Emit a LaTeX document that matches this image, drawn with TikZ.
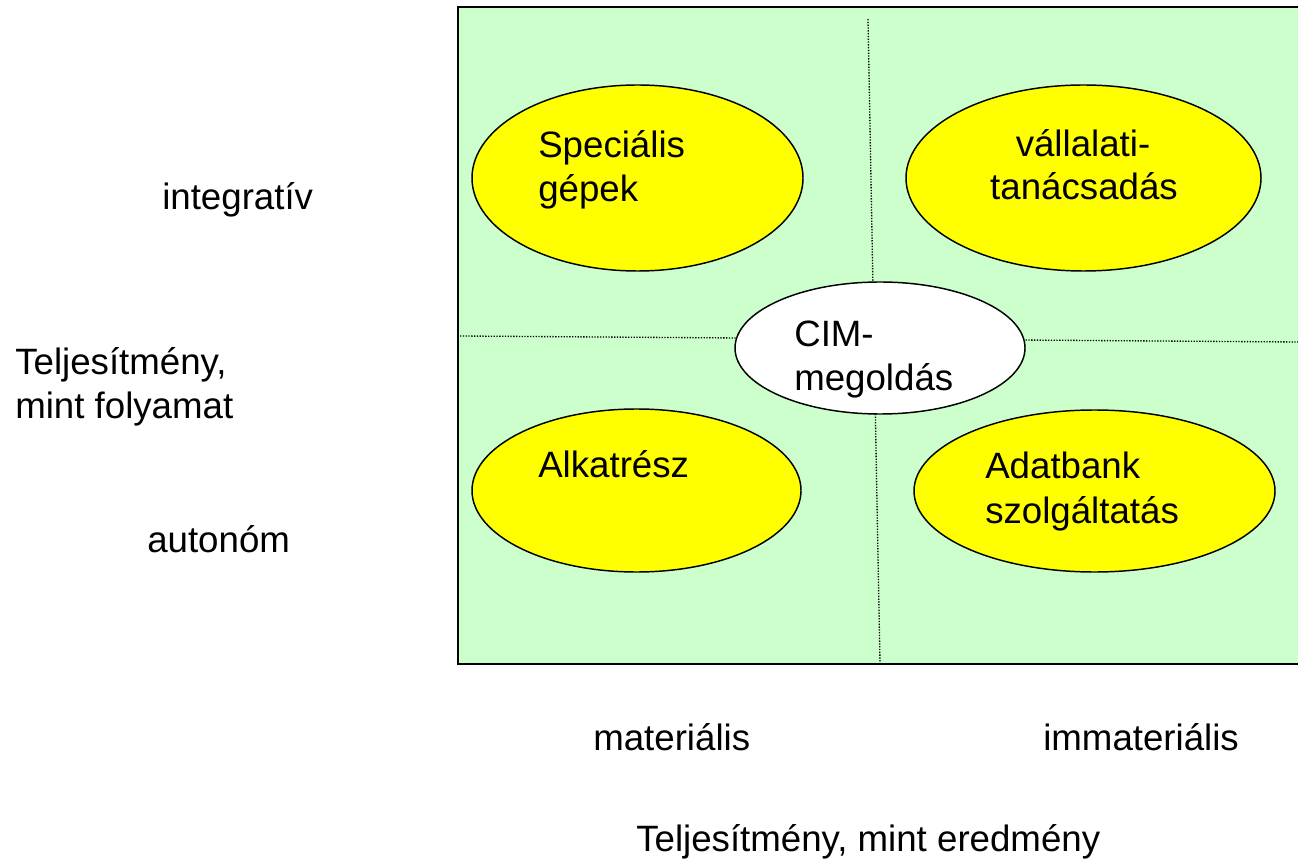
\documentclass[tikz,border=0pt]{standalone}
\usepackage{fontspec}
\setmainfont{Liberation Sans}
\usetikzlibrary{shapes.geometric}
\definecolor{panelgreen}{HTML}{CCFFCC}
\definecolor{blobyellow}{HTML}{FFFF00}
\begin{document}
\begin{tikzpicture}[x=0.75pt,y=-0.75pt,
  lbl/.style={font=\fontsize{27.5}{33}\selectfont, inner sep=0pt, anchor=base west},
  clbl/.style={lbl, anchor=base},
  blob/.style={ellipse, draw=black, line width=1.1pt, inner sep=0pt, fill=blobyellow},
  gridline/.style={line width=1pt, dash pattern=on 1pt off 1.1pt},
  frame/.style={line width=1.5pt}]
\useasboundingbox (0,0) rectangle (1298,862);

% panel background and frame (open on the right)
\coordinate (tr) at (1298,7);
\coordinate (tl) at (458,7);
\coordinate (bl) at (458,664);
\coordinate (br) at (1298,664);
\fill[panelgreen] (tl) rectangle (br);
\draw[frame] (tr) -- (tl) -- (bl) -- (br);

% quadrant separators
\coordinate (vt) at (868,19);
\coordinate (vb) at (880,664);
\coordinate (hl) at (460,336);
\coordinate (hr) at (1298,342);
\draw[gridline] (vt) -- (vb);
\draw[gridline] (hl) -- (hr);

% quadrant ellipses
\node[blob, minimum width=248.25pt, minimum height=139.5pt] (spec) at (637.5,178) {};
\node[blob, minimum width=266.25pt, minimum height=139.5pt] (vall) at (1083.5,178) {};
\node[blob, minimum width=246.75pt, minimum height=122.25pt] (alk) at (636.5,490.5) {};
\node[blob, minimum width=270.75pt, minimum height=121.5pt] (adat) at (1094.5,491) {};
\node[blob, fill=white, minimum width=217.5pt, minimum height=99pt] (cim) at (880,348) {};

% texts inside the ellipses
\node[lbl] (spec1) at (538,158) {Speciális};
\node[lbl] (spec2) at (538,202) {gépek};
\node[clbl] (vall1) at (1083,157) {vállalati-};
\node[clbl] (vall2) at (1084,200) {tanácsadás};
\node[lbl] (cim1) at (794,347) {CIM-};
\node[lbl] (cim2) at (794,391) {megoldás};
\node[lbl] (alk1) at (538,477) {Alkatrész};
\node[lbl] (adat1) at (985,478) {Adatbank};
\node[lbl] (adat2) at (985,523) {szolgáltatás};

% vertical axis labels
\node[lbl] (integ) at (162,210) {integratív};
\node[lbl] (tf1) at (15,375) {Teljesítmény,};
\node[lbl] (tf2) at (15,418) {mint folyamat};
\node[lbl] (auton) at (147,552) {autonóm};

% horizontal axis labels
\node[lbl] (mat) at (593,750) {materiális};
\node[lbl] (immat) at (1043,750) {immateriális};
\node[lbl] (te) at (636,851) {Teljesítmény, mint eredmény};
\end{tikzpicture}
\end{document}
